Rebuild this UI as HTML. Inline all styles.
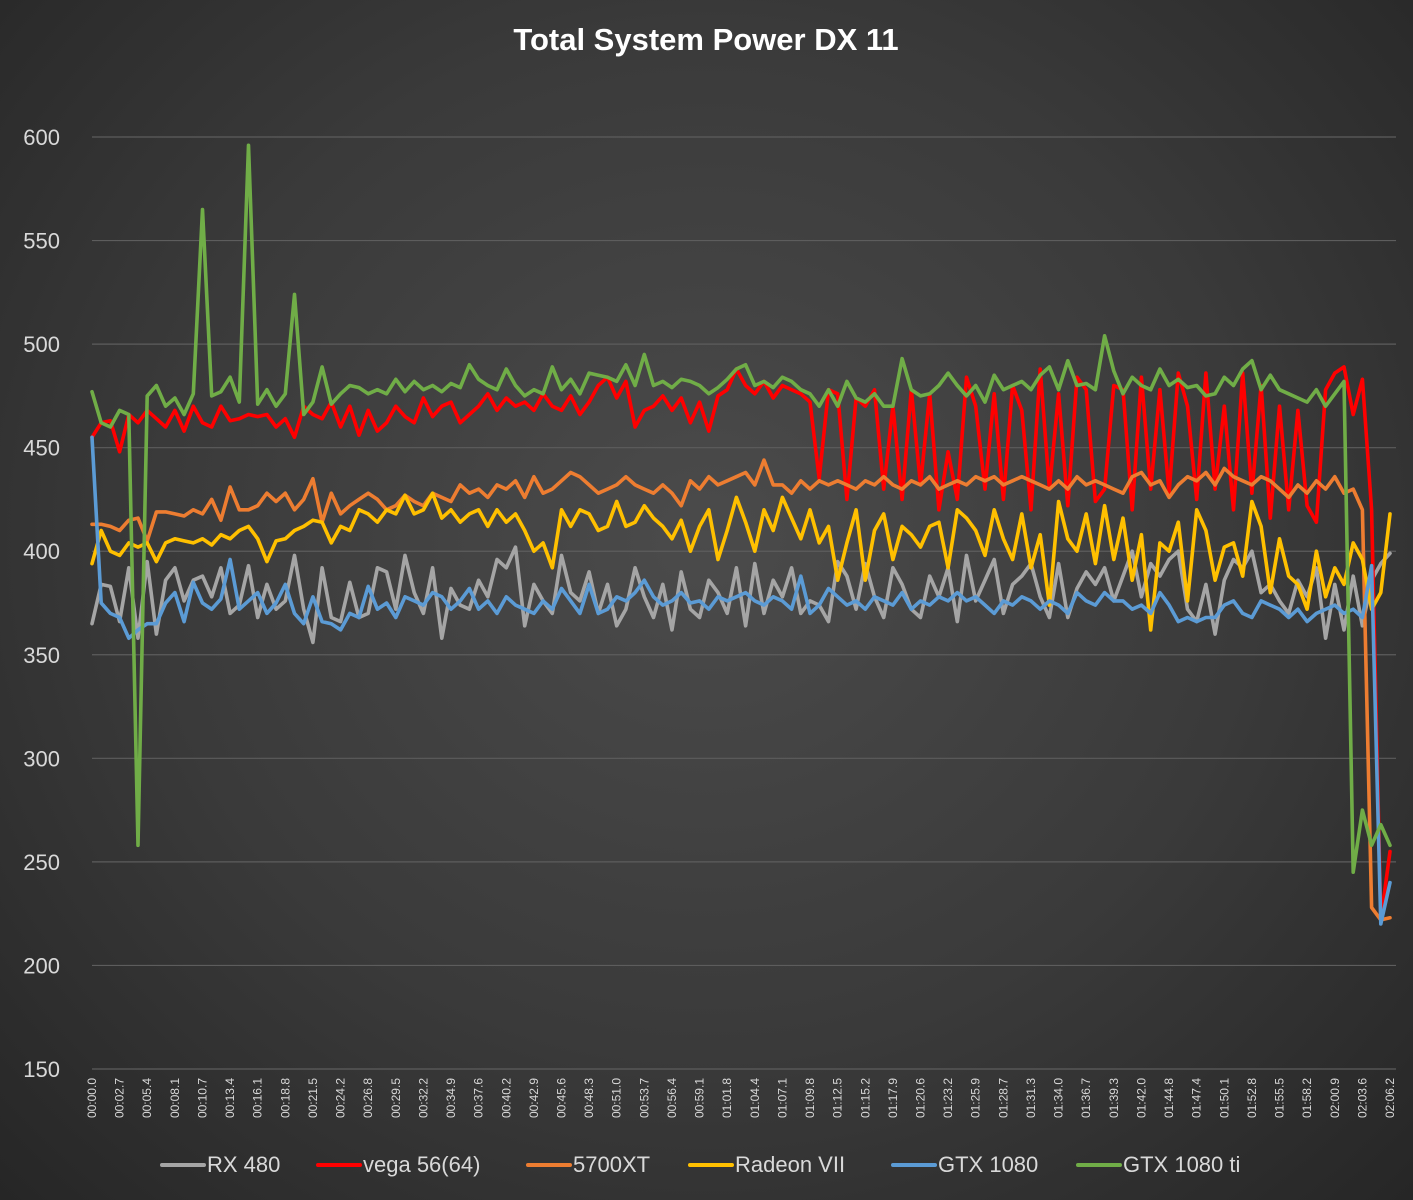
<!DOCTYPE html>
<html><head><meta charset="utf-8">
<style>
html,body{margin:0;padding:0;}
body{width:1413px;height:1200px;overflow:hidden;background:radial-gradient(ellipse at 50% 45%,#4b4b4b 0%,#3a3a3a 55%,#262626 100%);font-family:"Liberation Sans",sans-serif;}
svg{position:absolute;left:0;top:0;}
</style></head>
<body>
<svg id="chart" width="1413" height="1200">
<text x="706" y="50" text-anchor="middle" fill="#ffffff" font-size="31" font-weight="bold" font-family="Liberation Sans, sans-serif">Total System Power DX 11</text>
<g id="grid"></g>
<g id="yaxis"></g>
<g id="xaxis"></g>
<g id="series"></g>
<g id="legend"></g>
</svg>
<script>
const yTicks = [150,200,250,300,350,400,450,500,550,600];
const xLabels = ["00:00.0","00:02.7","00:05.4","00:08.1","00:10.7","00:13.4","00:16.1","00:18.8","00:21.5","00:24.2","00:26.8","00:29.5","00:32.2","00:34.9","00:37.6","00:40.2","00:42.9","00:45.6","00:48.3","00:51.0","00:53.7","00:56.4","00:59.1","01:01.8","01:04.4","01:07.1","01:09.8","01:12.5","01:15.2","01:17.9","01:20.6","01:23.2","01:25.9","01:28.7","01:31.3","01:34.0","01:36.7","01:39.3","01:42.0","01:44.8","01:47.4","01:50.1","01:52.8","01:55.5","01:58.2","02:00.9","02:03.6","02:06.2"];
const seriesNames = ["RX 480","vega 56(64)","5700XT","Radeon VII","GTX 1080","GTX 1080 ti"];
const rx480 = [365,384,383,366,392,358,395,360,386,392,376,386,388,378,392,370,374,393,368,384,372,376,398,372,356,392,368,366,385,368,370,392,390,372,398,380,370,392,358,382,374,372,386,378,396,392,402,364,384,376,370,398,380,376,390,370,384,364,372,392,378,368,384,362,390,372,368,386,380,370,392,364,394,370,386,378,392,370,376,374,366,395,388,372,394,378,368,392,384,372,368,388,378,392,366,398,376,386,396,370,384,388,394,378,368,394,368,382,390,384,392,376,388,400,378,394,388,396,400,372,366,384,360,386,396,392,400,380,384,376,370,386,378,392,358,384,362,388,364,386,394,399];
const vega56 = [455,462,463,448,466,462,468,464,460,468,458,470,462,460,470,463,464,466,465,466,460,464,455,470,466,464,472,460,470,456,468,458,462,470,465,462,474,465,470,472,462,466,470,476,468,474,470,472,468,476,470,468,475,466,472,480,484,474,482,460,468,470,475,468,474,462,472,458,475,478,488,480,476,482,474,480,478,476,472,435,478,476,425,474,470,478,430,470,425,478,432,476,420,448,425,484,470,430,476,425,480,468,420,488,430,476,422,484,478,424,430,480,478,420,484,430,478,428,486,470,425,486,430,470,420,486,428,480,416,470,420,468,422,414,478,486,489,466,483,420,222,255];
const xt5700 = [413,413,412,410,415,416,405,419,419,418,417,420,418,425,415,431,420,420,422,428,424,428,420,425,435,414,428,418,422,425,428,425,420,422,427,424,422,428,426,424,432,428,430,426,432,430,434,426,436,428,430,434,438,436,432,428,430,432,436,432,430,428,432,428,422,434,430,436,432,434,436,438,432,444,432,432,428,434,430,434,432,434,432,430,434,432,436,432,430,434,432,436,430,432,434,432,436,434,436,432,434,436,434,432,430,434,430,436,432,434,432,430,428,436,438,432,434,426,432,436,434,438,432,440,436,434,432,436,434,430,426,432,428,434,430,436,428,430,420,228,222,223];
const radeon7 = [394,410,400,398,404,402,404,395,404,406,405,404,406,403,408,406,410,412,406,395,405,406,410,412,415,414,404,412,410,420,418,414,420,418,427,418,420,428,416,420,414,418,420,412,420,414,418,410,400,404,392,420,412,420,418,410,412,424,412,414,422,416,412,406,415,400,412,420,396,410,426,414,400,420,410,426,416,406,420,404,412,386,404,420,386,410,418,396,412,408,402,412,414,392,420,416,410,398,420,406,396,418,392,408,374,424,406,400,418,394,422,396,416,386,408,362,404,400,414,376,420,410,386,402,404,388,424,412,380,406,388,384,372,400,378,392,384,404,396,372,380,418];
const gtx1080 = [455,375,370,368,358,362,365,365,375,380,366,385,375,372,377,396,372,376,380,370,375,384,370,365,378,366,365,362,370,368,383,372,375,368,378,376,374,380,378,372,376,382,372,376,370,378,374,372,370,376,372,382,376,370,384,370,372,378,376,380,386,378,374,376,380,375,376,372,378,376,378,380,376,374,378,376,372,388,370,374,382,378,374,376,372,378,376,374,380,372,376,374,378,376,380,376,378,374,370,376,374,378,376,372,376,374,370,380,376,374,380,376,376,372,374,370,380,374,366,368,366,368,368,374,376,370,368,376,374,372,368,372,366,370,372,374,370,372,368,393,220,240];
const gtx1080ti = [477,462,460,468,466,258,475,480,470,474,466,476,565,475,477,484,472,596,471,478,470,476,524,466,472,489,471,476,480,479,476,478,476,483,477,482,478,480,477,481,479,490,483,480,478,488,480,475,478,476,489,478,483,476,486,485,484,482,490,480,495,480,482,479,483,482,480,476,479,483,488,490,480,482,479,484,482,478,476,470,478,470,482,474,472,476,470,470,493,478,475,476,480,486,480,475,480,472,485,478,480,482,478,485,489,478,492,480,481,478,504,487,476,484,480,478,488,480,483,479,480,475,476,484,480,488,492,478,485,478,476,474,472,478,470,476,482,245,275,258,268,258];
const seriesColors = ["#a5a5a5","#ff0000","#ed7d31","#ffc000","#5b9bd5","#70ad47"];

const NS="http://www.w3.org/2000/svg";
const X0=92, X1=1390, Y150=1069, Y600=137;
const N=rx480.length;
function yScale(v){return Y150-(v-150)*(Y150-Y600)/450;}
function xScale(i){return X0+i*(X1-X0)/(N-1);}
function mk(tag,attrs,parent){const e=document.createElementNS(NS,tag);for(const k in attrs)e.setAttribute(k,attrs[k]);parent.appendChild(e);return e;}

const grid=document.getElementById('grid'), ya=document.getElementById('yaxis'), xa=document.getElementById('xaxis'), sg=document.getElementById('series'), lg=document.getElementById('legend');
yTicks.forEach(v=>{
  const y=yScale(v);
  const l=mk('line',{x1:X0,x2:1396,y1:y,y2:y,stroke:'#5d5d5d','stroke-width':1.2},grid);
  
  
  const t=mk('text',{x:60,y:y+8,'text-anchor':'end',fill:'#d9d9d9','font-size':22,'font-family':'Liberation Sans, sans-serif'},ya);
  t.textContent=v;
  
  
});
xLabels.forEach((s,k)=>{
  const x=xScale(k*3);
  const t=mk('text',{x:0,y:0,transform:`translate(${x+4},1078) rotate(-90)`,'text-anchor':'end',fill:'#d9d9d9','font-size':12,'font-family':'Liberation Sans, sans-serif'},xa);
  t.textContent=s;
  
  
});
const allSeries=[rx480,vega56,xt5700,radeon7,gtx1080,gtx1080ti];
allSeries.forEach((d,si)=>{
  const pts=d.map((v,i)=>xScale(i).toFixed(1)+','+yScale(v).toFixed(1)).join(' ');
  const p=mk('polyline',{points:pts,fill:'none',stroke:seriesColors[si],'stroke-width':3.6,'stroke-linejoin':'round','stroke-linecap':'round'},sg);
  
  
});
const legX=[162,318,528,690,893,1078];
seriesNames.forEach((n,si)=>{
  const g=mk('g',{},lg);
  
  
  mk('line',{x1:legX[si],x2:legX[si]+42,y1:1165,y2:1165,stroke:seriesColors[si],'stroke-width':4,'stroke-linecap':'round'},g);
  const t=mk('text',{x:legX[si]+45,y:1172,fill:'#d9d9d9','font-size':22,'font-family':'Liberation Sans, sans-serif'},g);
  t.textContent=n;
});
</script>
</body></html>
